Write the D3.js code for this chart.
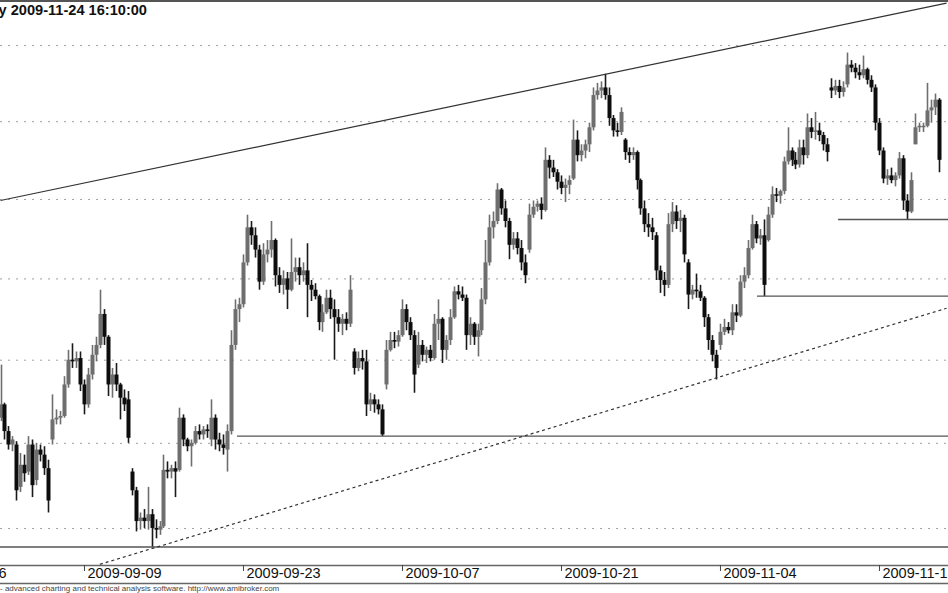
<!DOCTYPE html>
<html><head><meta charset="utf-8">
<script src="https://cdn.jsdelivr.net/npm/d3@7"></script>
<style>html,body{margin:0;padding:0;background:#fff;overflow:hidden}</style>
</head><body>
<svg id="c" width="948" height="593"></svg>
<script>
// Hourly-style bars (index 0 = first visible bar)
const opens = [
2165,2173,2157,2149,2149,2124,2137,2133,2149,2128,
2146,2143,2135,2152,2164,2165,2166,2185,2200,2199,
2201,2185,2173,2191,2203,2209,2228,2214,2185,2191,
2185,2177,2176,2133,2122,2104,2106,2104,2108,2100,
2099,2101,2134,2133,2135,2134,2165,2152,2148,2150,
2157,2155,2158,2152,2165,2152,2149,2146,2157,2209,
2231,2234,2260,2282,2277,2268,2248,2265,2268,2274,
2252,2246,2250,2243,2254,2257,2252,2255,2246,2243,
2239,2223,2229,2238,2231,2226,2222,2225,2222,2205,
2195,2201,2199,2173,2176,2173,2170,2185,2206,2212,
2211,2215,2231,2223,2215,2197,2209,2203,2206,2201,
2222,2225,2206,2212,2226,2242,2240,2238,2215,2222,
2214,2218,2237,2260,2282,2286,2306,2294,2286,2271,
2275,2269,2260,2268,2290,2295,2297,2293,2325,2320,
2317,2311,2307,2309,2313,2338,2328,2331,2335,2346,
2367,2370,2372,2367,2352,2344,2343,2338,2330,2328,
2330,2312,2294,2284,2282,2277,2255,2249,2246,2284,
2292,2286,2288,2260,2240,2243,2242,2238,2226,2212,
2203,2209,2217,2220,2218,2229,2227,2248,2252,2269,
2284,2275,2277,2274,2290,2303,2302,2305,2324,2331,
2325,2322,2333,2328,2346,2343,2344,2341,2335,2372,
2370,2373,2369,2374,2387,2385,2382,2380,2384,2377,
2372,2349,2331,2313,2315,2312,2315,2326,2299,2292,
2335,2346,2347,2347,2357,2359,2364];
const highs = [
2197,2174,2160,2154,2151,2144,2143,2154,2152,2150,
2149,2148,2140,2179,2170,2169,2190,2206,2210,2205,
2205,2188,2195,2209,2214,2243,2231,2215,2195,2198,
2186,2182,2181,2135,2124,2109,2111,2124,2111,2105,
2104,2143,2139,2137,2139,2171,2167,2153,2152,2160,
2161,2160,2161,2176,2167,2156,2155,2161,2218,2237,
2238,2265,2290,2286,2282,2271,2272,2274,2286,2275,
2257,2255,2254,2275,2263,2263,2260,2272,2249,2247,
2240,2234,2243,2243,2237,2231,2228,2229,2252,2207,
2205,2206,2206,2180,2179,2176,2173,2212,2217,2217,
2218,2237,2234,2226,2218,2217,2212,2208,2209,2228,
2237,2226,2215,2231,2245,2246,2245,2240,2226,2223,
2222,2244,2274,2290,2292,2310,2307,2299,2288,2279,
2279,2274,2265,2297,2299,2299,2301,2333,2328,2325,
2319,2315,2313,2315,2351,2344,2335,2338,2349,2372,
2375,2376,2381,2372,2354,2349,2359,2339,2333,2333,
2331,2313,2299,2291,2288,2279,2258,2254,2291,2298,
2296,2293,2290,2262,2246,2253,2246,2239,2228,2215,
2206,2222,2225,2223,2234,2234,2252,2257,2274,2290,
2286,2281,2287,2295,2308,2307,2306,2327,2346,2333,
2330,2338,2338,2355,2352,2356,2349,2343,2339,2378,
2377,2377,2376,2395,2390,2388,2387,2393,2385,2380,
2374,2352,2333,2319,2320,2317,2330,2328,2303,2317,
2355,2349,2349,2375,2364,2368,2365];
const lows = [
2163,2152,2146,2145,2116,2121,2127,2131,2118,2125,
2139,2131,2109,2149,2161,2161,2165,2183,2195,2195,
2181,2167,2171,2188,2199,2207,2209,2178,2177,2181,
2164,2169,2150,2119,2098,2099,2100,2099,2089,2094,
2096,2100,2129,2129,2118,2133,2148,2145,2136,2149,
2152,2152,2153,2148,2146,2145,2143,2133,2155,2206,
2223,2232,2258,2271,2263,2243,2246,2260,2263,2245,
2241,2240,2231,2242,2248,2246,2248,2226,2236,2237,
2218,2217,2228,2225,2200,2217,2215,2218,2220,2191,
2193,2194,2166,2169,2168,2167,2154,2182,2205,2207,
2208,2214,2218,2212,2180,2195,2199,2198,2199,2200,
2212,2198,2200,2209,2225,2237,2236,2206,2209,2209,
2202,2215,2234,2258,2275,2284,2290,2282,2262,2268,
2265,2255,2247,2266,2288,2292,2287,2292,2313,2314,
2306,2303,2298,2303,2312,2324,2324,2326,2330,2344,
2364,2365,2364,2347,2340,2340,2341,2325,2323,2325,
2306,2290,2279,2276,2274,2249,2241,2239,2244,2279,
2281,2279,2260,2231,2237,2238,2236,2220,2206,2199,
2188,2206,2215,2216,2215,2223,2226,2244,2250,2268,
2272,2271,2239,2273,2288,2298,2297,2303,2322,2321,
2319,2320,2322,2326,2339,2338,2337,2331,2324,2365,
2367,2365,2366,2372,2382,2378,2377,2378,2374,2369,
2344,2328,2310,2309,2310,2308,2313,2293,2287,2291,
2335,2343,2343,2346,2349,2354,2317];
const closes = [
2173,2157,2149,2152,2122,2137,2132,2149,2125,2146,
2143,2135,2116,2164,2165,2166,2185,2200,2199,2201,
2185,2173,2191,2203,2209,2228,2214,2185,2191,2185,
2177,2173,2153,2122,2104,2106,2104,2108,2100,2099,
2101,2134,2133,2135,2133,2165,2152,2148,2150,2157,
2155,2158,2157,2165,2152,2149,2147,2157,2209,2231,
2234,2260,2282,2277,2268,2248,2265,2268,2274,2252,
2246,2250,2243,2254,2257,2252,2255,2246,2243,2239,
2223,2229,2238,2231,2226,2222,2225,2222,2243,2195,
2201,2199,2173,2176,2173,2170,2155,2206,2212,2211,
2215,2231,2223,2215,2191,2209,2203,2206,2201,2222,
2225,2206,2212,2226,2242,2240,2238,2215,2222,2214,
2218,2237,2260,2282,2286,2306,2294,2286,2271,2275,
2269,2260,2252,2290,2295,2297,2293,2325,2320,2317,
2311,2307,2309,2312,2338,2328,2331,2335,2346,2367,
2370,2372,2367,2352,2344,2343,2356,2330,2328,2330,
2312,2294,2284,2282,2279,2255,2249,2246,2284,2292,
2286,2288,2265,2240,2243,2242,2238,2226,2212,2203,
2195,2217,2220,2218,2229,2227,2248,2252,2269,2284,
2275,2277,2246,2290,2303,2302,2305,2324,2331,2325,
2322,2333,2328,2346,2343,2344,2341,2335,2330,2370,
2373,2369,2372,2387,2385,2382,2380,2384,2377,2372,
2349,2331,2313,2315,2312,2315,2326,2299,2292,2312,
2346,2347,2347,2357,2359,2364,2325];

const tickBars = [-18, 21, 61, 101, 141, 181, 221];
const tickLabels = ["2009-08-26","2009-09-09","2009-09-23","2009-10-07","2009-10-21","2009-11-04","2009-11-18"];
const gridPrices = [2100, 2150, 2200, 2250, 2300, 2350, 2400];
const supportPrices = [2089, 2154, 2239, 2287];
const supportStartBars = [-5, 59.5, 190.3, 210.7];
const upperTrend = [[0, 2299], [238, 2428]];
const lowerTrend = [[25, 2079], [238, 2231.5]];
const titleText = "y 2009-11-24 16:10:00";
const footerText = "- advanced charting and technical analysis software. http://www.amibroker.com";

const W = 948, H = 593, plotTop = 2, plotBottom = 565, axisBottom = 583;
const svg = d3.select("#c");
const x = d3.scaleLinear().domain([0, 236]).range([0.5, 938.6]);
const y = d3.scaleLog().domain([2078.6, 2428.7]).range([plotBottom, plotTop]);

svg.append("defs").append("clipPath").attr("id", "clip")
  .append("rect").attr("x", 0).attr("y", plotTop).attr("width", W).attr("height", plotBottom - plotTop);

// grid
const grid = svg.append("g").attr("class", "grid")
  .call(d3.axisLeft(y).tickValues(gridPrices).tickSize(-W).tickFormat(""));
grid.select(".domain").remove();
grid.selectAll(".tick line").attr("stroke", "#a0a0a0").attr("stroke-dasharray", "2,6");

const plot = svg.append("g").attr("clip-path", "url(#clip)");

// candles
const idx = d3.range(closes.length);
const up = i => closes[i] >= opens[i];
const cg = plot.append("g");
cg.selectAll("line.w").data(idx).join("line").attr("class", "w")
  .attr("x1", i => Math.round(x(i)) + 0.5).attr("x2", i => Math.round(x(i)) + 0.5)
  .attr("y1", i => y(highs[i])).attr("y2", i => y(lows[i]))
  .attr("stroke", i => up(i) ? "#6e6e6e" : "#1a1a1a").attr("stroke-width", 1.6);
cg.selectAll("rect.b").data(idx).join("rect").attr("class", "b")
  .attr("x", i => Math.round(x(i)) - 1.5).attr("width", 4)
  .attr("y", i => Math.min(y(opens[i]), y(closes[i])))
  .attr("height", i => Math.max(1.5, Math.abs(y(opens[i]) - y(closes[i]))))
  .attr("fill", i => up(i) ? "#6e6e6e" : "#0d0d0d");

// support lines
supportPrices.forEach((p, k) => {
  plot.append("line").attr("x1", x(supportStartBars[k])).attr("x2", W)
    .attr("y1", y(p)).attr("y2", y(p)).attr("stroke", "#555").attr("stroke-width", 1.4);
});

// trend lines
const tl = d3.line().x(d => x(d[0])).y(d => y(d[1]));
plot.append("path").attr("d", tl(upperTrend)).attr("fill", "none").attr("stroke", "#333").attr("stroke-width", 1.2);
plot.append("path").attr("d", tl(lowerTrend)).attr("fill", "none").attr("stroke", "#333")
  .attr("stroke-width", 1.2).attr("stroke-dasharray", "3,3");

// frame
svg.append("line").attr("x1", 0).attr("x2", W).attr("y1", 1).attr("y2", 1).attr("stroke", "#555").attr("stroke-width", 2);
[plotBottom, axisBottom].forEach(v => svg.append("line").attr("x1", 0).attr("x2", W)
  .attr("y1", v + 0.5).attr("y2", v + 0.5).attr("stroke", "#666").attr("stroke-width", 1.3));

// x axis
const xa = svg.append("g").attr("transform", `translate(0,${plotBottom})`)
  .call(d3.axisBottom(x).tickValues(tickBars).tickSize(6).tickFormat((d, i) => tickLabels[i]));
xa.select(".domain").remove();
xa.selectAll(".tick line").attr("stroke", "#444");
xa.selectAll(".tick text").attr("x", 3).attr("y", 13).attr("dy", 0)
  .attr("text-anchor", "start").attr("fill", "#111")
  .style("font-family", "'Liberation Sans', Arial, sans-serif").style("font-size", "14.5px");

// title and footer
svg.append("text").attr("x", -1.5).attr("y", 14.5).text(titleText)
  .style("font-family", "'Liberation Sans', Arial, sans-serif").style("font-size", "14.6px")
  .style("font-weight", "bold").attr("fill", "#111");
svg.append("text").attr("x", 0).attr("y", 591).text(footerText)
  .style("font-family", "'Liberation Sans', Arial, sans-serif").style("font-size", "8px").attr("fill", "#444");
</script>
</body></html>
